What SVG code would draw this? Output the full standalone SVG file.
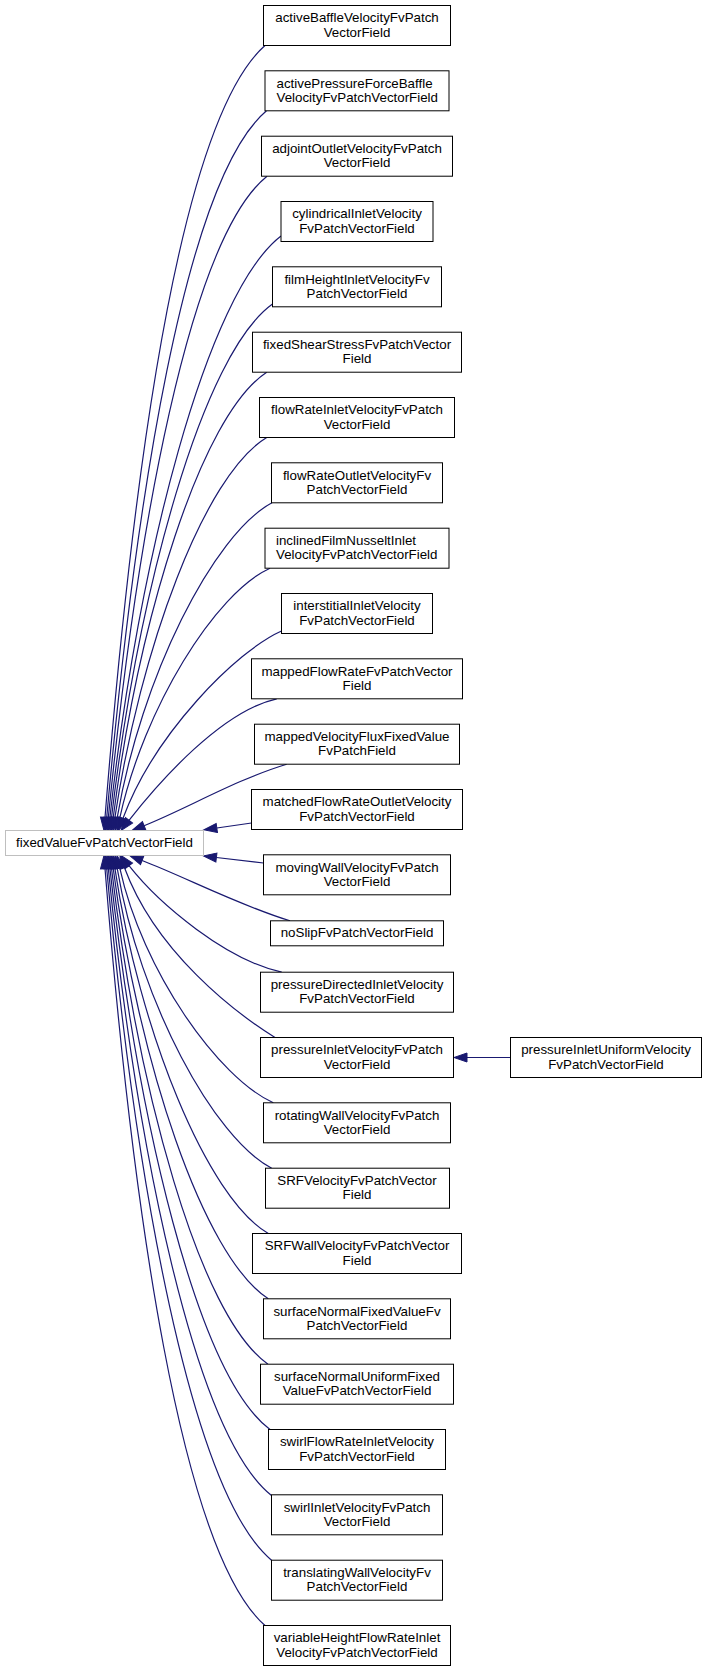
<svg xmlns="http://www.w3.org/2000/svg" width="707" height="1672" viewBox="0 0 707 1672">
<style>
.n rect{fill:#fff;stroke:#000;stroke-width:1}
.m rect{fill:#fff;stroke:#bfbfbf;stroke-width:1}
text{font-family:"Liberation Sans",Arial,Helvetica,sans-serif;font-size:13.33px;fill:#000;text-anchor:middle}
text.l{text-anchor:start}
.e path{fill:none;stroke:#191970;stroke-width:1.2;marker-end:url(#a)}
</style>
<defs>
<marker id="a" markerUnits="userSpaceOnUse" viewBox="0 0 13 9" markerWidth="13" markerHeight="9" refX="0" refY="4.5" orient="auto" overflow="visible">
<path d="M0,0 L13,4.5 L0,9 Z" fill="#191970" stroke="#191970" stroke-width="1"/>
</marker>
</defs>
<rect width="707" height="1672" fill="#fff"/>
<g id="edges" class="e">
<path d="M265,45.5 C180,120.5 132.7,471.2 105,817.5"/>
<path d="M266.5,110.8 C185.2,179.6 135.2,500.9 106.7,817.6"/>
<path d="M267,176.2 C189.5,238.7 137,530.4 108.3,817.6"/>
<path d="M281,236 C206.9,292.8 138.5,557.5 109.9,817.6"/>
<path d="M272.5,304 C202.3,354.3 139,588.1 111.5,817.6"/>
<path d="M266.7,372.2 C200.4,416 139,618.9 113.2,817.6"/>
<path d="M266.7,437.5 C204.2,475 140.3,648.5 114.9,817.6"/>
<path d="M272,502.8 C213.2,534.1 140.9,678 117.2,817.7"/>
<path d="M270,568.2 C215,593.2 143.9,708.1 119.8,817.8"/>
<path d="M281.5,631 C236.5,651 154.2,733.9 123,818.3"/>
<path d="M276.7,698.8 C221.7,711 159.9,781 129,820.3"/>
<path d="M286.7,764.2 C236.7,779.2 186,809 144.1,825.7"/>
<path d="M251.5,823 L216.8,828"/>
<path d="M263.5,863 L216.4,857.5"/>
<path d="M290,920.8 C240,905.8 184.1,876.6 142.1,860.5"/>
<path d="M281.7,972.2 C226.7,960.2 159.9,905 129,865.7"/>
<path d="M275,1037.5 C235,1012.5 155.7,952.1 124.5,867.7"/>
<path d="M273.3,1102.8 C218.3,1077.8 142.5,971.3 119.8,868.2"/>
<path d="M271.7,1168.2 C213.8,1138.3 139.8,1001.4 117.2,868.3"/>
<path d="M268.3,1233.5 C206.6,1197.4 139.3,1030.9 114.9,868.4"/>
<path d="M268.3,1298.8 C202.9,1256.5 138.2,1060.5 113.2,868.4"/>
<path d="M268,1364.2 C198.8,1315.6 138.1,1089.9 111.5,868.4"/>
<path d="M270,1429.5 C197.1,1374.7 137.5,1119.4 109.9,868.4"/>
<path d="M271.5,1495.5 C194.8,1434.4 136.4,1149.2 108.3,868.4"/>
<path d="M271.5,1560.2 C191.1,1492.8 134.6,1178.5 106.7,868.4"/>
<path d="M265,1625.5 C180.9,1551.9 132.2,1208.1 105,868.5"/>
<path d="M510.5,1057.5 L467,1057.5"/>
</g>
<g id="fixedValueFvPatchVectorField" class="m"><rect x="5.5" y="830.5" width="198" height="25"/><text x="104.5" y="847.3">fixedValueFvPatchVectorField</text></g>
<g id="n1" class="n"><rect x="263.5" y="5.5" width="187" height="40"/><text x="357" y="22.2">activeBaffleVelocityFvPatch</text><text x="357" y="36.7">VectorField</text></g>
<g id="n2" class="n"><rect x="265" y="70.8" width="184" height="40"/><text class="l" x="276.5" y="87.5">activePressureForceBaffle</text><text class="l" x="276.5" y="102">VelocityFvPatchVectorField</text></g>
<g id="n3" class="n"><rect x="261.5" y="136.2" width="191" height="40"/><text x="357" y="152.9">adjointOutletVelocityFvPatch</text><text x="357" y="167.4">VectorField</text></g>
<g id="n4" class="n"><rect x="281" y="201.5" width="152" height="40"/><text x="357" y="218.2">cylindricalInletVelocity</text><text x="357" y="232.7">FvPatchVectorField</text></g>
<g id="n5" class="n"><rect x="272.5" y="266.8" width="169" height="40"/><text x="357" y="283.5">filmHeightInletVelocityFv</text><text x="357" y="298">PatchVectorField</text></g>
<g id="n6" class="n"><rect x="252.5" y="332.2" width="209" height="40"/><text x="357" y="348.9">fixedShearStressFvPatchVector</text><text x="357" y="363.4">Field</text></g>
<g id="n7" class="n"><rect x="259.5" y="397.5" width="195" height="40"/><text x="357" y="414.2">flowRateInletVelocityFvPatch</text><text x="357" y="428.7">VectorField</text></g>
<g id="n8" class="n"><rect x="271.5" y="462.8" width="171" height="40"/><text x="357" y="479.5">flowRateOutletVelocityFv</text><text x="357" y="494">PatchVectorField</text></g>
<g id="n9" class="n"><rect x="265" y="528.2" width="184" height="40"/><text class="l" x="276" y="544.9">inclinedFilmNusseltInlet</text><text class="l" x="276" y="559.4">VelocityFvPatchVectorField</text></g>
<g id="n10" class="n"><rect x="281.5" y="593.5" width="151" height="40"/><text x="357" y="610.2">interstitialInletVelocity</text><text x="357" y="624.7">FvPatchVectorField</text></g>
<g id="n11" class="n"><rect x="251.5" y="658.8" width="211" height="40"/><text x="357" y="675.5">mappedFlowRateFvPatchVector</text><text x="357" y="690">Field</text></g>
<g id="n12" class="n"><rect x="254.5" y="724.2" width="205" height="40"/><text x="357" y="740.9">mappedVelocityFluxFixedValue</text><text x="357" y="755.4">FvPatchField</text></g>
<g id="n13" class="n"><rect x="251.5" y="789.5" width="211" height="40"/><text x="357" y="806.2">matchedFlowRateOutletVelocity</text><text x="357" y="820.7">FvPatchVectorField</text></g>
<g id="n14" class="n"><rect x="263.5" y="854.8" width="187" height="40"/><text x="357" y="871.5">movingWallVelocityFvPatch</text><text x="357" y="886">VectorField</text></g>
<g id="n15" class="n"><rect x="270.5" y="920.8" width="173" height="25"/><text x="357" y="937.3">noSlipFvPatchVectorField</text></g>
<g id="n16" class="n"><rect x="260.5" y="972.2" width="193" height="40"/><text x="357" y="988.9">pressureDirectedInletVelocity</text><text x="357" y="1003.4">FvPatchVectorField</text></g>
<g id="n17" class="n"><rect x="260.5" y="1037.5" width="193" height="40"/><text x="357" y="1054.2">pressureInletVelocityFvPatch</text><text x="357" y="1068.7">VectorField</text></g>
<g id="n18" class="n"><rect x="263.5" y="1102.8" width="187" height="40"/><text x="357" y="1119.5">rotatingWallVelocityFvPatch</text><text x="357" y="1134">VectorField</text></g>
<g id="n19" class="n"><rect x="265.5" y="1168.2" width="184" height="40"/><text x="357" y="1184.9">SRFVelocityFvPatchVector</text><text x="357" y="1199.4">Field</text></g>
<g id="n20" class="n"><rect x="252.5" y="1233.5" width="209" height="40"/><text x="357" y="1250.2">SRFWallVelocityFvPatchVector</text><text x="357" y="1264.7">Field</text></g>
<g id="n21" class="n"><rect x="263.5" y="1298.8" width="187" height="40"/><text x="357" y="1315.5">surfaceNormalFixedValueFv</text><text x="357" y="1330">PatchVectorField</text></g>
<g id="n22" class="n"><rect x="260.5" y="1364.2" width="193" height="40"/><text x="357" y="1380.9">surfaceNormalUniformFixed</text><text x="357" y="1395.4">ValueFvPatchVectorField</text></g>
<g id="n23" class="n"><rect x="268.5" y="1429.5" width="177" height="40"/><text x="357" y="1446.2">swirlFlowRateInletVelocity</text><text x="357" y="1460.7">FvPatchVectorField</text></g>
<g id="n24" class="n"><rect x="271.5" y="1494.8" width="171" height="40"/><text x="357" y="1511.5">swirlInletVelocityFvPatch</text><text x="357" y="1526">VectorField</text></g>
<g id="n25" class="n"><rect x="271.5" y="1560.2" width="171" height="40"/><text x="357" y="1576.9">translatingWallVelocityFv</text><text x="357" y="1591.4">PatchVectorField</text></g>
<g id="n26" class="n"><rect x="263.5" y="1625.5" width="187" height="40"/><text x="357" y="1642.2">variableHeightFlowRateInlet</text><text x="357" y="1656.7">VelocityFvPatchVectorField</text></g>
<g id="n27" class="n"><rect x="510.5" y="1037.5" width="191" height="40"/><text x="606" y="1054.2">pressureInletUniformVelocity</text><text x="606" y="1068.7">FvPatchVectorField</text></g>
</svg>
